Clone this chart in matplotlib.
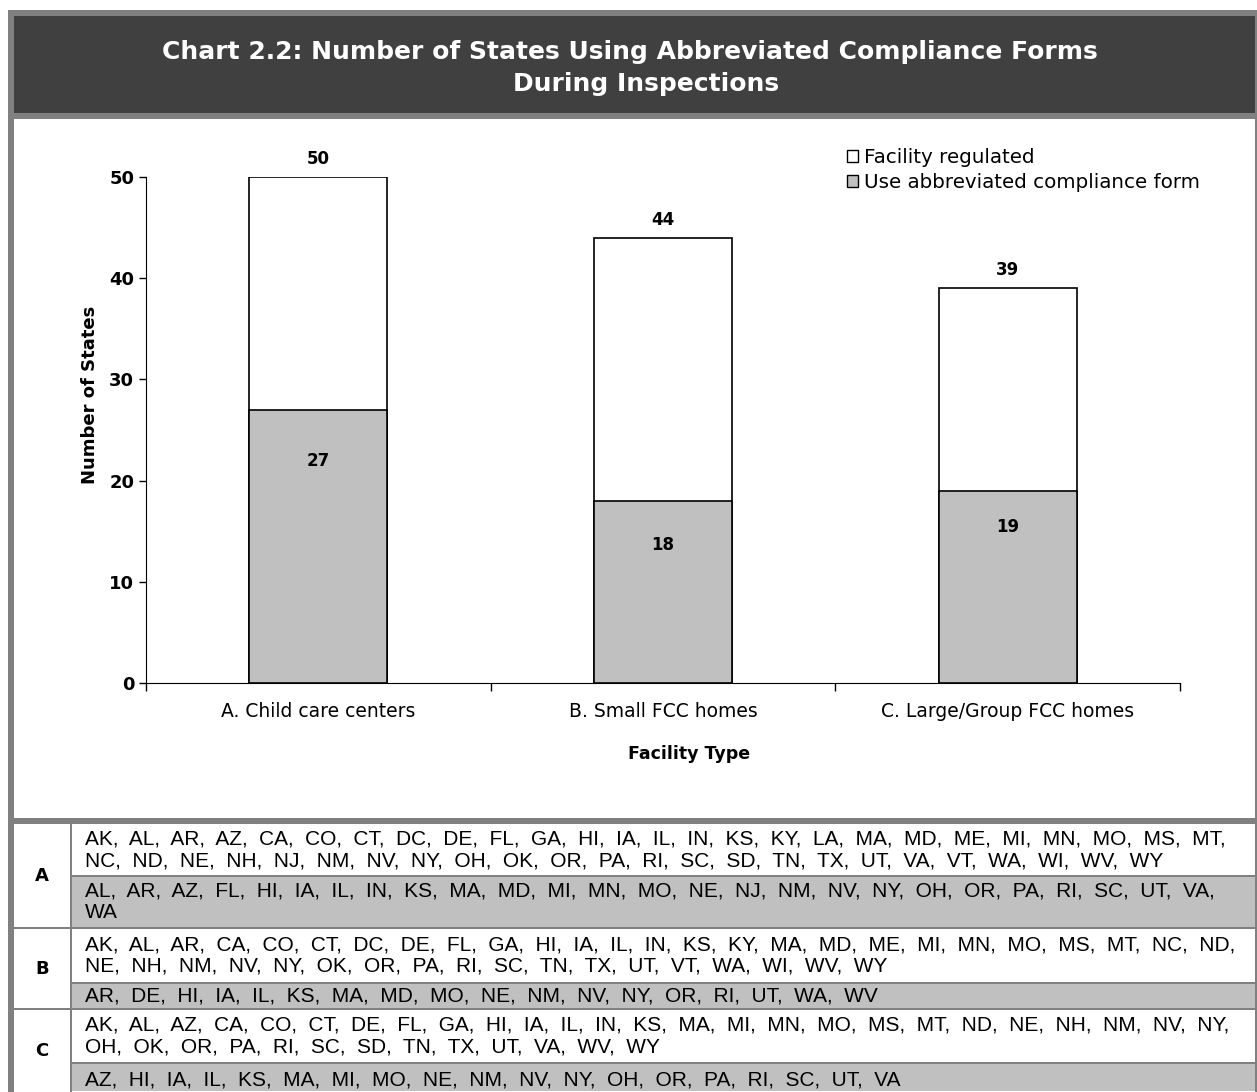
import matplotlib.pyplot as plt
from matplotlib.patches import Rectangle, Patch

# chart data
categories = ['A. Child care centers', 'B. Small FCC homes', 'C. Large/Group FCC homes']
row_keys = ['A', 'B', 'C']
regulated = [50, 44, 39]
abbreviated = [27, 18, 19]

regulated_states = [
    ['AK', 'AL', 'AR', 'AZ', 'CA', 'CO', 'CT', 'DC', 'DE', 'FL', 'GA', 'HI', 'IA', 'IL', 'IN', 'KS', 'KY',
     'LA', 'MA', 'MD', 'ME', 'MI', 'MN', 'MO', 'MS', 'MT', 'NC', 'ND', 'NE', 'NH', 'NJ', 'NM', 'NV', 'NY',
     'OH', 'OK', 'OR', 'PA', 'RI', 'SC', 'SD', 'TN', 'TX', 'UT', 'VA', 'VT', 'WA', 'WI', 'WV', 'WY'],
    ['AK', 'AL', 'AR', 'CA', 'CO', 'CT', 'DC', 'DE', 'FL', 'GA', 'HI', 'IA', 'IL', 'IN', 'KS', 'KY', 'MA',
     'MD', 'ME', 'MI', 'MN', 'MO', 'MS', 'MT', 'NC', 'ND', 'NE', 'NH', 'NM', 'NV', 'NY', 'OK', 'OR', 'PA',
     'RI', 'SC', 'TN', 'TX', 'UT', 'VT', 'WA', 'WI', 'WV', 'WY'],
    ['AK', 'AL', 'AZ', 'CA', 'CO', 'CT', 'DE', 'FL', 'GA', 'HI', 'IA', 'IL', 'IN', 'KS', 'MA', 'MI', 'MN',
     'MO', 'MS', 'MT', 'ND', 'NE', 'NH', 'NM', 'NV', 'NY', 'OH', 'OK', 'OR', 'PA', 'RI', 'SC', 'SD', 'TN',
     'TX', 'UT', 'VA', 'WV', 'WY'],
]
abbreviated_states = [
    ['AL', 'AR', 'AZ', 'FL', 'HI', 'IA', 'IL', 'IN', 'KS', 'MA', 'MD', 'MI', 'MN', 'MO', 'NE', 'NJ', 'NM',
     'NV', 'NY', 'OH', 'OR', 'PA', 'RI', 'SC', 'UT', 'VA', 'WA'],
    ['AR', 'DE', 'HI', 'IA', 'IL', 'KS', 'MA', 'MD', 'MO', 'NE', 'NM', 'NV', 'NY', 'OR', 'RI', 'UT', 'WA', 'WV'],
    ['AZ', 'HI', 'IA', 'IL', 'KS', 'MA', 'MI', 'MO', 'NE', 'NM', 'NV', 'NY', 'OH', 'OR', 'PA', 'RI', 'SC',
     'UT', 'VA'],
]

W, H = 1257, 1092
FRAME = '#808080'
DARK = '#404040'
FILL = '#c0c0c0'


def fx(x):
    return x / W


def fy(y):
    return 1 - y / H


def box(x0, y0, x1, y1, color):
    fig.add_artist(Rectangle((fx(x0), fy(y1)), (x1 - x0) / W, (y1 - y0) / H,
                             transform=fig.transFigure, facecolor=color,
                             edgecolor='none', zorder=0))


def wrap(states, per_line=26, sep=',  '):
    lines = []
    for i in range(0, len(states), per_line):
        chunk = sep.join(states[i:i + per_line])
        if i + per_line < len(states):
            chunk += ','
        lines.append(chunk)
    return '\n'.join(lines)


fig = plt.figure(figsize=(W / 100, H / 100), dpi=100)

# outer frame and title band
box(8, 10, W, H, FRAME)
box(14, 16, 1255, 113, DARK)
box(14, 119, 1255, 818, 'white')
box(14, 824, 1255, H, 'white')
fig.text(fx(630), fy(52), 'Chart 2.2: Number of States Using Abbreviated Compliance Forms',
         color='white', fontsize=18, fontweight='bold', ha='center', va='center')
fig.text(fx(646), fy(84), 'During Inspections',
         color='white', fontsize=18, fontweight='bold', ha='center', va='center')

# bar chart
ax = fig.add_axes([fx(146), fy(683), (1180 - 146) / W, (683 - 177) / H])
x = list(range(len(categories)))
ax.bar(x, regulated, width=0.4, color='white', edgecolor='black', linewidth=1.2, zorder=2)
ax.bar(x, abbreviated, width=0.4, color=FILL, edgecolor='black', linewidth=1.2, zorder=3)

for i, v in enumerate(regulated):
    ax.annotate(str(v), (i, v), xytext=(0, 6.5), textcoords='offset points',
                ha='center', va='bottom', fontsize=12, fontweight='bold', annotation_clip=False)
label_drop = [5.1, 4.4, 3.6]
for i, v in enumerate(abbreviated):
    ax.text(i, v - label_drop[i], str(v), ha='center', va='center',
            fontsize=12, fontweight='bold', zorder=4)

ax.set_xlim(-0.5, 2.5)
ax.set_ylim(0, 50)
ax.set_yticks(range(0, 51, 10))
ax.tick_params(axis='y', labelsize=13, length=5, width=1)
for lbl in ax.get_yticklabels():
    lbl.set_fontweight('bold')
ax.set_xticks([-0.5, 0.5, 1.5, 2.5])
ax.set_xticklabels([])
ax.tick_params(axis='x', which='major', length=6, width=1)
ax.set_xticks(x, minor=True)
ax.set_xticklabels(categories, minor=True, fontsize=13.5)
ax.tick_params(axis='x', which='minor', length=0, pad=14)
ax.spines['top'].set_visible(False)
ax.spines['right'].set_visible(False)
ax.set_ylabel('Number of States', fontsize=13, fontweight='bold')
ax.yaxis.set_label_coords(-0.045, 0.57)
ax.set_xlabel('Facility Type', fontsize=12.5, fontweight='bold')
ax.xaxis.set_label_coords(0.525, -0.122)

handles = [Patch(facecolor='white', edgecolor='black', label='Facility regulated'),
           Patch(facecolor=FILL, edgecolor='black', label='Use abbreviated compliance form')]
fig.legend(handles=handles, loc='upper left', bbox_to_anchor=(fx(837), fy(138)),
           frameon=False, fontsize=14.3, handlelength=0.55, handleheight=0.55,
           handletextpad=0.3, labelspacing=0.3, borderpad=0)

# state table below the chart
box(70, 824, 72, H, FRAME)
rows = [(824, 876, 928), (928, 983, 1009), (1009, 1063, H)]
for k, (top, mid, bottom) in enumerate(rows):
    if k > 0:
        box(14, top - 1, 1255, top + 1, FRAME)
    box(72, mid - 1, 1255, mid + 1, FRAME)
    box(72, mid + 1, 1255, bottom - 1, FILL)
    fig.text(fx(42), fy((top + bottom) / 2), row_keys[k],
             fontsize=13, fontweight='bold', ha='center', va='center')
    fig.text(fx(85), fy((top + mid) / 2), wrap(regulated_states[k]), family='Liberation Sans',
             fontsize=15, ha='left', va='center', linespacing=1.15)
    fig.text(fx(85), fy((mid + bottom) / 2 if k < 2 else 1080), wrap(abbreviated_states[k]),
             family='Liberation Sans', fontsize=15, ha='left', va='center', linespacing=1.15)

fig.savefig('out.png', dpi=100)
